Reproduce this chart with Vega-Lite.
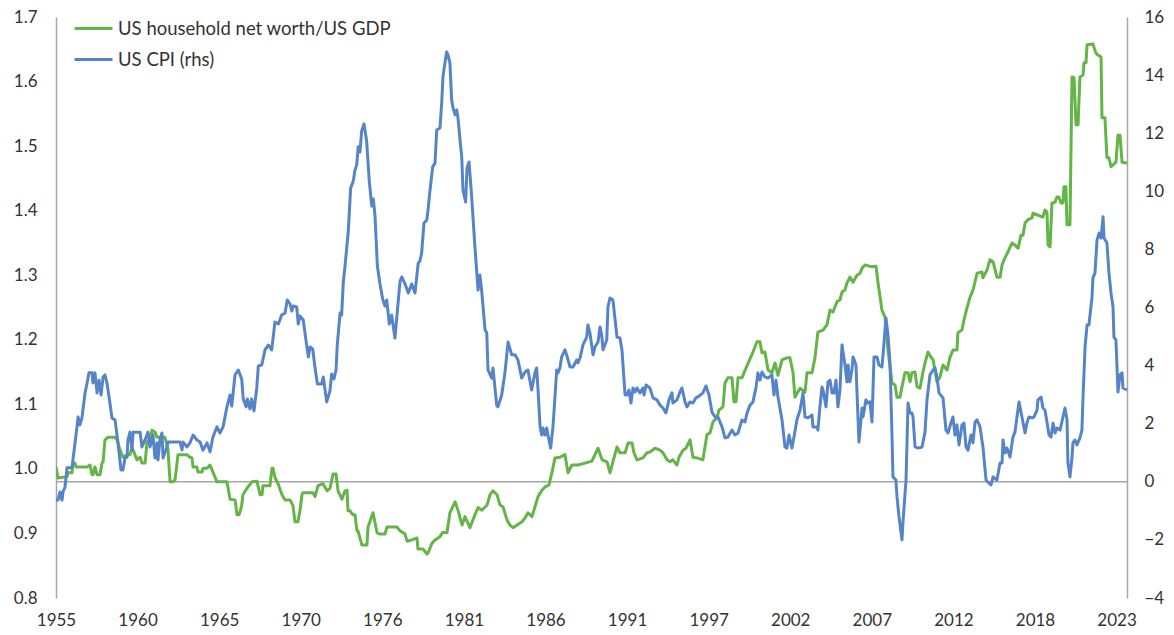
{
"$schema": "https://vega.github.io/schema/vega-lite/v6.json",
"width": 1071,
"height": 581,
"autosize": {"type": "none"},
"padding": {"left": 56, "top": 17, "right": 47, "bottom": 37},
"background": "white",
"config": {"view": {"stroke": null}, "font": "Lato", "axis": {"labelFont": "Lato", "labelFontSize": 17, "labelColor": "#333333", "grid": false, "ticks": false, "title": null}},
"datasets": {
"nw": [
{"date":1955.00,"nw":1.003},{"date":1955.13,"nw":0.986},{"date":1955.71,"nw":0.988},{"date":1955.77,"nw":0.994},{"date":1956.03,"nw":0.994},{"date":1956.09,"nw":1.009},{"date":1956.22,"nw":1.009},{"date":1956.29,"nw":1.003},{"date":1957.00,"nw":1.003},{"date":1957.19,"nw":1.006},{"date":1957.32,"nw":0.991},{"date":1957.38,"nw":0.991},{"date":1957.51,"nw":1.003},{"date":1957.64,"nw":0.991},{"date":1957.83,"nw":0.991},{"date":1957.96,"nw":1.009},{"date":1958.03,"nw":1.011},{"date":1958.15,"nw":1.045},{"date":1958.35,"nw":1.049},{"date":1958.80,"nw":1.049},{"date":1958.93,"nw":1.045},{"date":1959.12,"nw":1.029},{"date":1959.31,"nw":1.018},{"date":1959.57,"nw":1.022},{"date":1959.76,"nw":1.022},{"date":1959.89,"nw":1.034},{"date":1960.08,"nw":1.022},{"date":1960.21,"nw":1.014},{"date":1960.41,"nw":1.018},{"date":1960.53,"nw":1.009},{"date":1960.73,"nw":1.009},{"date":1960.86,"nw":1.042},{"date":1961.05,"nw":1.045},{"date":1961.18,"nw":1.060},{"date":1961.37,"nw":1.057},{"date":1961.50,"nw":1.049},{"date":1962.01,"nw":1.049},{"date":1962.21,"nw":1.029},{"date":1962.34,"nw":0.980},{"date":1962.53,"nw":0.980},{"date":1962.66,"nw":0.983},{"date":1962.85,"nw":1.022},{"date":1963.43,"nw":1.022},{"date":1963.62,"nw":1.018},{"date":1963.75,"nw":1.017},{"date":1963.82,"nw":1.003},{"date":1964.07,"nw":1.003},{"date":1964.14,"nw":0.995},{"date":1964.40,"nw":0.995},{"date":1964.46,"nw":1.001},{"date":1964.72,"nw":1.001},{"date":1964.91,"nw":1.006},{"date":1965.10,"nw":0.995},{"date":1965.36,"nw":0.980},{"date":1966.00,"nw":0.980},{"date":1966.20,"nw":0.953},{"date":1966.52,"nw":0.952},{"date":1966.65,"nw":0.929},{"date":1966.78,"nw":0.929},{"date":1966.95,"nw":0.943},{"date":1967.03,"nw":0.960},{"date":1967.29,"nw":0.970},{"date":1967.61,"nw":0.980},{"date":1967.93,"nw":0.981},{"date":1968.13,"nw":0.960},{"date":1968.26,"nw":0.960},{"date":1968.32,"nw":0.974},{"date":1968.77,"nw":0.974},{"date":1968.90,"nw":1.001},{"date":1968.96,"nw":1.001},{"date":1969.09,"nw":0.987},{"date":1969.29,"nw":0.977},{"date":1969.54,"nw":0.960},{"date":1969.74,"nw":0.952},{"date":1970.06,"nw":0.952},{"date":1970.25,"nw":0.943},{"date":1970.38,"nw":0.918},{"date":1970.57,"nw":0.918},{"date":1970.70,"nw":0.935},{"date":1970.83,"nw":0.960},{"date":1970.89,"nw":0.963},{"date":1971.54,"nw":0.963},{"date":1971.67,"nw":0.957},{"date":1971.86,"nw":0.974},{"date":1972.18,"nw":0.977},{"date":1972.44,"nw":0.966},{"date":1972.63,"nw":0.970},{"date":1972.83,"nw":0.992},{"date":1973.02,"nw":0.992},{"date":1973.15,"nw":0.966},{"date":1973.40,"nw":0.953},{"date":1973.60,"nw":0.966},{"date":1973.73,"nw":0.967},{"date":1973.79,"nw":0.935},{"date":1973.92,"nw":0.935},{"date":1974.11,"nw":0.929},{"date":1974.24,"nw":0.929},{"date":1974.37,"nw":0.904},{"date":1974.43,"nw":0.904},{"date":1974.69,"nw":0.882},{"date":1975.01,"nw":0.882},{"date":1975.08,"nw":0.910},{"date":1975.40,"nw":0.932},{"date":1975.66,"nw":0.901},{"date":1975.85,"nw":0.899},{"date":1976.17,"nw":0.899},{"date":1976.30,"nw":0.910},{"date":1976.94,"nw":0.910},{"date":1977.14,"nw":0.904},{"date":1977.46,"nw":0.899},{"date":1977.59,"nw":0.888},{"date":1977.91,"nw":0.890},{"date":1978.23,"nw":0.893},{"date":1978.29,"nw":0.876},{"date":1978.62,"nw":0.876},{"date":1978.87,"nw":0.868},{"date":1978.94,"nw":0.870},{"date":1979.20,"nw":0.885},{"date":1979.39,"nw":0.890},{"date":1979.71,"nw":0.895},{"date":1979.90,"nw":0.902},{"date":1980.16,"nw":0.901},{"date":1980.35,"nw":0.932},{"date":1980.68,"nw":0.949},{"date":1980.87,"nw":0.936},{"date":1981.13,"nw":0.913},{"date":1981.32,"nw":0.926},{"date":1981.64,"nw":0.909},{"date":1981.96,"nw":0.929},{"date":1982.16,"nw":0.940},{"date":1982.41,"nw":0.936},{"date":1982.74,"nw":0.944},{"date":1982.93,"nw":0.960},{"date":1983.12,"nw":0.966},{"date":1983.38,"nw":0.960},{"date":1983.57,"nw":0.944},{"date":1983.77,"nw":0.941},{"date":1984.02,"nw":0.921},{"date":1984.21,"nw":0.913},{"date":1984.41,"nw":0.909},{"date":1984.67,"nw":0.913},{"date":1984.99,"nw":0.918},{"date":1985.18,"nw":0.924},{"date":1985.37,"nw":0.932},{"date":1985.63,"nw":0.926},{"date":1985.82,"nw":0.941},{"date":1986.02,"nw":0.957},{"date":1986.27,"nw":0.967},{"date":1986.47,"nw":0.972},{"date":1986.72,"nw":0.975},{"date":1986.92,"nw":0.995},{"date":1987.11,"nw":1.017},{"date":1987.43,"nw":1.018},{"date":1987.75,"nw":1.022},{"date":1987.95,"nw":0.994},{"date":1988.20,"nw":1.006},{"date":1988.59,"nw":1.006},{"date":1989.04,"nw":1.009},{"date":1989.49,"nw":1.012},{"date":1989.68,"nw":1.022},{"date":1989.88,"nw":1.032},{"date":1990.14,"nw":1.014},{"date":1990.46,"nw":1.011},{"date":1990.65,"nw":0.994},{"date":1990.84,"nw":1.011},{"date":1991.10,"nw":1.034},{"date":1991.29,"nw":1.025},{"date":1991.62,"nw":1.025},{"date":1991.81,"nw":1.040},{"date":1992.07,"nw":1.040},{"date":1992.19,"nw":1.025},{"date":1992.39,"nw":1.014},{"date":1992.77,"nw":1.017},{"date":1993.03,"nw":1.025},{"date":1993.22,"nw":1.026},{"date":1993.55,"nw":1.032},{"date":1993.87,"nw":1.029},{"date":1994.06,"nw":1.025},{"date":1994.32,"nw":1.014},{"date":1994.51,"nw":1.011},{"date":1994.70,"nw":1.014},{"date":1994.96,"nw":1.006},{"date":1995.09,"nw":1.018},{"date":1995.35,"nw":1.029},{"date":1995.54,"nw":1.032},{"date":1995.80,"nw":1.045},{"date":1995.99,"nw":1.018},{"date":1996.25,"nw":1.017},{"date":1996.63,"nw":1.014},{"date":1996.89,"nw":1.053},{"date":1997.09,"nw":1.056},{"date":1997.28,"nw":1.073},{"date":1997.54,"nw":1.079},{"date":1997.66,"nw":1.091},{"date":1997.92,"nw":1.096},{"date":1998.05,"nw":1.133},{"date":1998.24,"nw":1.141},{"date":1998.50,"nw":1.141},{"date":1998.63,"nw":1.104},{"date":1998.76,"nw":1.104},{"date":1998.89,"nw":1.141},{"date":1999.14,"nw":1.141},{"date":1999.40,"nw":1.156},{"date":1999.85,"nw":1.181},{"date":2000.11,"nw":1.197},{"date":2000.30,"nw":1.197},{"date":2000.43,"nw":1.180},{"date":2000.62,"nw":1.181},{"date":2000.82,"nw":1.153},{"date":2001.07,"nw":1.149},{"date":2001.27,"nw":1.164},{"date":2001.46,"nw":1.145},{"date":2001.72,"nw":1.169},{"date":2002.04,"nw":1.172},{"date":2002.23,"nw":1.172},{"date":2002.43,"nw":1.149},{"date":2002.55,"nw":1.111},{"date":2002.88,"nw":1.125},{"date":2003.20,"nw":1.119},{"date":2003.33,"nw":1.149},{"date":2003.65,"nw":1.149},{"date":2003.84,"nw":1.172},{"date":2004.03,"nw":1.212},{"date":2004.36,"nw":1.215},{"date":2004.61,"nw":1.223},{"date":2004.81,"nw":1.246},{"date":2005.00,"nw":1.243},{"date":2005.26,"nw":1.259},{"date":2005.45,"nw":1.262},{"date":2005.58,"nw":1.274},{"date":2005.77,"nw":1.277},{"date":2005.90,"nw":1.288},{"date":2006.09,"nw":1.297},{"date":2006.29,"nw":1.289},{"date":2006.54,"nw":1.300},{"date":2006.74,"nw":1.303},{"date":2006.87,"nw":1.311},{"date":2007.06,"nw":1.316},{"date":2007.51,"nw":1.313},{"date":2007.77,"nw":1.314},{"date":2007.90,"nw":1.288},{"date":2008.15,"nw":1.246},{"date":2008.35,"nw":1.235},{"date":2008.54,"nw":1.184},{"date":2008.80,"nw":1.133},{"date":2008.99,"nw":1.130},{"date":2009.12,"nw":1.111},{"date":2009.31,"nw":1.111},{"date":2009.44,"nw":1.127},{"date":2009.63,"nw":1.149},{"date":2009.83,"nw":1.149},{"date":2009.96,"nw":1.135},{"date":2010.08,"nw":1.149},{"date":2010.28,"nw":1.150},{"date":2010.41,"nw":1.127},{"date":2010.60,"nw":1.125},{"date":2010.79,"nw":1.150},{"date":2010.92,"nw":1.164},{"date":2011.11,"nw":1.181},{"date":2011.31,"nw":1.173},{"date":2011.44,"nw":1.169},{"date":2011.69,"nw":1.135},{"date":2011.88,"nw":1.142},{"date":2012.08,"nw":1.161},{"date":2012.34,"nw":1.153},{"date":2012.53,"nw":1.173},{"date":2012.72,"nw":1.184},{"date":2012.98,"nw":1.184},{"date":2013.04,"nw":1.211},{"date":2013.30,"nw":1.215},{"date":2013.43,"nw":1.231},{"date":2013.62,"nw":1.249},{"date":2013.82,"nw":1.266},{"date":2014.01,"nw":1.277},{"date":2014.27,"nw":1.303},{"date":2014.59,"nw":1.305},{"date":2014.65,"nw":1.296},{"date":2014.91,"nw":1.308},{"date":2015.10,"nw":1.324},{"date":2015.30,"nw":1.321},{"date":2015.55,"nw":1.297},{"date":2015.75,"nw":1.297},{"date":2015.88,"nw":1.316},{"date":2016.07,"nw":1.327},{"date":2016.26,"nw":1.336},{"date":2016.52,"nw":1.350},{"date":2016.71,"nw":1.347},{"date":2016.91,"nw":1.342},{"date":2017.10,"nw":1.362},{"date":2017.23,"nw":1.362},{"date":2017.36,"nw":1.381},{"date":2017.55,"nw":1.386},{"date":2017.81,"nw":1.389},{"date":2017.87,"nw":1.396},{"date":2018.51,"nw":1.390},{"date":2018.64,"nw":1.401},{"date":2018.77,"nw":1.398},{"date":2018.84,"nw":1.347},{"date":2018.97,"nw":1.344},{"date":2019.09,"nw":1.412},{"date":2019.29,"nw":1.413},{"date":2019.41,"nw":1.421},{"date":2019.54,"nw":1.421},{"date":2019.67,"nw":1.412},{"date":2019.80,"nw":1.412},{"date":2019.87,"nw":1.437},{"date":2019.99,"nw":1.437},{"date":2020.06,"nw":1.378},{"date":2020.25,"nw":1.378},{"date":2020.38,"nw":1.607},{"date":2020.51,"nw":1.606},{"date":2020.64,"nw":1.533},{"date":2020.77,"nw":1.533},{"date":2020.89,"nw":1.607},{"date":2021.09,"nw":1.610},{"date":2021.15,"nw":1.629},{"date":2021.28,"nw":1.629},{"date":2021.35,"nw":1.657},{"date":2021.73,"nw":1.658},{"date":2021.92,"nw":1.644},{"date":2022.05,"nw":1.641},{"date":2022.25,"nw":1.638},{"date":2022.31,"nw":1.544},{"date":2022.50,"nw":1.544},{"date":2022.63,"nw":1.482},{"date":2022.76,"nw":1.482},{"date":2022.89,"nw":1.468},{"date":2023.02,"nw":1.471},{"date":2023.21,"nw":1.475},{"date":2023.34,"nw":1.517},{"date":2023.47,"nw":1.517},{"date":2023.60,"nw":1.475},{"date":2023.92,"nw":1.474}
],
"cpi": [
{"date":1955.00,"cpi":-0.63},{"date":1955.13,"cpi":-0.63},{"date":1955.26,"cpi":-0.35},{"date":1955.39,"cpi":-0.63},{"date":1955.45,"cpi":-0.35},{"date":1955.58,"cpi":-0.18},{"date":1955.71,"cpi":0.48},{"date":1956.03,"cpi":0.48},{"date":1956.09,"cpi":0.75},{"date":1956.35,"cpi":1.89},{"date":1956.42,"cpi":2.23},{"date":1956.54,"cpi":1.96},{"date":1956.67,"cpi":2.20},{"date":1956.87,"cpi":3.06},{"date":1957.00,"cpi":3.40},{"date":1957.12,"cpi":3.75},{"date":1957.32,"cpi":3.75},{"date":1957.38,"cpi":3.40},{"date":1957.51,"cpi":3.75},{"date":1957.64,"cpi":3.06},{"date":1957.77,"cpi":3.50},{"date":1957.90,"cpi":2.99},{"date":1958.03,"cpi":3.61},{"date":1958.15,"cpi":3.68},{"date":1958.28,"cpi":3.40},{"date":1958.47,"cpi":2.71},{"date":1958.60,"cpi":2.20},{"date":1958.80,"cpi":2.13},{"date":1958.99,"cpi":1.34},{"date":1959.18,"cpi":0.41},{"date":1959.31,"cpi":0.41},{"date":1959.44,"cpi":0.82},{"date":1959.57,"cpi":0.85},{"date":1959.63,"cpi":1.44},{"date":1959.76,"cpi":1.71},{"date":1959.89,"cpi":1.09},{"date":1959.96,"cpi":1.71},{"date":1960.41,"cpi":1.71},{"date":1960.53,"cpi":1.20},{"date":1960.73,"cpi":1.44},{"date":1960.92,"cpi":1.71},{"date":1961.05,"cpi":1.20},{"date":1961.24,"cpi":1.61},{"date":1961.37,"cpi":0.82},{"date":1961.50,"cpi":1.34},{"date":1961.56,"cpi":0.75},{"date":1961.69,"cpi":1.44},{"date":1961.82,"cpi":1.68},{"date":1961.89,"cpi":0.82},{"date":1962.14,"cpi":1.20},{"date":1962.21,"cpi":1.37},{"date":1962.98,"cpi":1.37},{"date":1963.11,"cpi":1.09},{"date":1963.17,"cpi":1.37},{"date":1963.43,"cpi":1.20},{"date":1963.62,"cpi":1.34},{"date":1963.82,"cpi":1.61},{"date":1964.07,"cpi":1.44},{"date":1964.27,"cpi":1.37},{"date":1964.46,"cpi":1.09},{"date":1964.72,"cpi":1.34},{"date":1964.91,"cpi":1.03},{"date":1965.10,"cpi":1.54},{"date":1965.36,"cpi":1.89},{"date":1965.55,"cpi":1.68},{"date":1965.75,"cpi":1.89},{"date":1966.00,"cpi":2.58},{"date":1966.20,"cpi":2.99},{"date":1966.31,"cpi":2.61},{"date":1966.52,"cpi":3.68},{"date":1966.73,"cpi":3.85},{"date":1966.95,"cpi":3.54},{"date":1967.05,"cpi":2.85},{"date":1967.23,"cpi":2.58},{"date":1967.31,"cpi":2.85},{"date":1967.48,"cpi":2.51},{"date":1967.59,"cpi":2.85},{"date":1967.74,"cpi":2.44},{"date":1967.92,"cpi":3.23},{"date":1968.02,"cpi":3.99},{"date":1968.24,"cpi":4.02},{"date":1968.45,"cpi":4.54},{"date":1968.66,"cpi":4.71},{"date":1968.88,"cpi":4.54},{"date":1969.09,"cpi":5.50},{"date":1969.31,"cpi":5.43},{"date":1969.52,"cpi":5.74},{"date":1969.74,"cpi":5.81},{"date":1969.88,"cpi":6.26},{"date":1970.06,"cpi":6.12},{"date":1970.17,"cpi":5.88},{"date":1970.27,"cpi":6.05},{"date":1970.49,"cpi":6.02},{"date":1970.59,"cpi":5.43},{"date":1970.70,"cpi":5.71},{"date":1970.91,"cpi":5.57},{"date":1971.09,"cpi":4.85},{"date":1971.24,"cpi":4.30},{"date":1971.35,"cpi":4.64},{"date":1971.52,"cpi":4.57},{"date":1971.67,"cpi":3.92},{"date":1971.82,"cpi":3.37},{"date":1972.10,"cpi":3.37},{"date":1972.20,"cpi":3.61},{"date":1972.42,"cpi":2.75},{"date":1972.63,"cpi":3.13},{"date":1972.74,"cpi":3.71},{"date":1972.89,"cpi":3.54},{"date":1973.02,"cpi":3.85},{"date":1973.10,"cpi":4.71},{"date":1973.28,"cpi":5.81},{"date":1973.38,"cpi":5.74},{"date":1973.49,"cpi":6.88},{"date":1973.60,"cpi":7.43},{"date":1973.81,"cpi":8.63},{"date":1973.96,"cpi":10.11},{"date":1974.13,"cpi":10.35},{"date":1974.24,"cpi":10.73},{"date":1974.35,"cpi":10.91},{"date":1974.45,"cpi":11.53},{"date":1974.56,"cpi":11.35},{"date":1974.67,"cpi":12.08},{"date":1974.82,"cpi":12.32},{"date":1974.99,"cpi":11.73},{"date":1975.16,"cpi":10.35},{"date":1975.32,"cpi":9.49},{"date":1975.42,"cpi":9.74},{"date":1975.53,"cpi":9.15},{"date":1975.68,"cpi":7.43},{"date":1975.85,"cpi":6.81},{"date":1976.02,"cpi":6.29},{"date":1976.17,"cpi":6.05},{"date":1976.28,"cpi":6.26},{"date":1976.45,"cpi":5.43},{"date":1976.60,"cpi":5.74},{"date":1976.81,"cpi":4.95},{"date":1977.14,"cpi":6.91},{"date":1977.25,"cpi":7.05},{"date":1977.46,"cpi":6.81},{"date":1977.67,"cpi":6.50},{"date":1977.89,"cpi":6.81},{"date":1978.10,"cpi":6.50},{"date":1978.31,"cpi":7.53},{"date":1978.42,"cpi":7.60},{"date":1978.53,"cpi":7.88},{"date":1978.68,"cpi":8.91},{"date":1978.86,"cpi":9.01},{"date":1978.94,"cpi":9.36},{"date":1979.07,"cpi":10.05},{"date":1979.24,"cpi":10.84},{"date":1979.39,"cpi":10.97},{"date":1979.50,"cpi":12.11},{"date":1979.71,"cpi":12.18},{"date":1979.82,"cpi":13.04},{"date":1979.90,"cpi":13.93},{"date":1980.03,"cpi":14.42},{"date":1980.14,"cpi":14.80},{"date":1980.23,"cpi":14.69},{"date":1980.35,"cpi":14.42},{"date":1980.46,"cpi":13.14},{"date":1980.55,"cpi":12.87},{"date":1980.68,"cpi":12.63},{"date":1980.79,"cpi":12.80},{"date":1980.87,"cpi":12.52},{"date":1981.00,"cpi":11.77},{"date":1981.11,"cpi":11.18},{"date":1981.19,"cpi":10.05},{"date":1981.36,"cpi":9.63},{"date":1981.45,"cpi":10.80},{"date":1981.58,"cpi":11.01},{"date":1981.75,"cpi":9.80},{"date":1981.96,"cpi":8.08},{"date":1982.16,"cpi":6.60},{"date":1982.28,"cpi":7.12},{"date":1982.39,"cpi":6.60},{"date":1982.61,"cpi":5.23},{"date":1982.72,"cpi":5.12},{"date":1982.80,"cpi":3.85},{"date":1983.04,"cpi":3.57},{"date":1983.12,"cpi":3.92},{"date":1983.36,"cpi":2.64},{"date":1983.44,"cpi":2.58},{"date":1983.68,"cpi":2.99},{"date":1983.89,"cpi":3.75},{"date":1984.09,"cpi":4.81},{"date":1984.33,"cpi":4.37},{"date":1984.54,"cpi":4.37},{"date":1984.73,"cpi":4.19},{"date":1984.97,"cpi":3.57},{"date":1985.18,"cpi":3.78},{"date":1985.37,"cpi":3.85},{"date":1985.61,"cpi":3.16},{"date":1985.82,"cpi":3.75},{"date":1985.93,"cpi":3.92},{"date":1986.02,"cpi":3.16},{"date":1986.15,"cpi":1.89},{"date":1986.26,"cpi":1.61},{"date":1986.34,"cpi":1.85},{"date":1986.47,"cpi":1.61},{"date":1986.58,"cpi":1.85},{"date":1986.66,"cpi":1.61},{"date":1986.83,"cpi":1.16},{"date":1986.98,"cpi":1.89},{"date":1987.11,"cpi":2.92},{"date":1987.22,"cpi":3.85},{"date":1987.30,"cpi":3.75},{"date":1987.43,"cpi":3.92},{"date":1987.54,"cpi":4.30},{"date":1987.75,"cpi":4.54},{"date":1987.86,"cpi":4.37},{"date":1988.08,"cpi":3.95},{"date":1988.27,"cpi":3.95},{"date":1988.51,"cpi":4.19},{"date":1988.59,"cpi":4.09},{"date":1988.72,"cpi":4.26},{"date":1988.91,"cpi":4.71},{"date":1989.15,"cpi":4.98},{"date":1989.23,"cpi":5.40},{"date":1989.36,"cpi":5.12},{"date":1989.56,"cpi":4.37},{"date":1989.68,"cpi":4.64},{"date":1989.88,"cpi":4.81},{"date":1990.01,"cpi":5.33},{"date":1990.12,"cpi":5.05},{"date":1990.20,"cpi":4.54},{"date":1990.44,"cpi":4.88},{"date":1990.52,"cpi":6.02},{"date":1990.65,"cpi":6.33},{"date":1990.84,"cpi":6.26},{"date":1991.10,"cpi":4.98},{"date":1991.29,"cpi":4.95},{"date":1991.42,"cpi":4.54},{"date":1991.62,"cpi":2.99},{"date":1991.74,"cpi":2.99},{"date":1991.87,"cpi":3.16},{"date":1992.00,"cpi":2.71},{"date":1992.13,"cpi":3.23},{"date":1992.26,"cpi":3.09},{"date":1992.39,"cpi":3.23},{"date":1992.58,"cpi":3.06},{"date":1992.77,"cpi":3.23},{"date":1992.84,"cpi":2.99},{"date":1992.97,"cpi":3.33},{"date":1993.22,"cpi":3.23},{"date":1993.42,"cpi":2.89},{"date":1993.67,"cpi":2.82},{"date":1993.87,"cpi":2.64},{"date":1994.06,"cpi":2.54},{"date":1994.25,"cpi":2.37},{"date":1994.45,"cpi":2.82},{"date":1994.64,"cpi":3.06},{"date":1994.70,"cpi":2.71},{"date":1994.96,"cpi":2.82},{"date":1995.15,"cpi":3.09},{"date":1995.28,"cpi":3.23},{"date":1995.48,"cpi":2.75},{"date":1995.60,"cpi":2.58},{"date":1995.80,"cpi":2.75},{"date":1995.99,"cpi":2.71},{"date":1996.18,"cpi":2.89},{"date":1996.38,"cpi":2.95},{"date":1996.63,"cpi":3.06},{"date":1996.83,"cpi":3.30},{"date":1997.02,"cpi":2.99},{"date":1997.21,"cpi":2.40},{"date":1997.41,"cpi":2.23},{"date":1997.60,"cpi":2.23},{"date":1997.86,"cpi":1.89},{"date":1998.05,"cpi":1.51},{"date":1998.24,"cpi":1.54},{"date":1998.50,"cpi":1.78},{"date":1998.69,"cpi":1.61},{"date":1998.89,"cpi":1.68},{"date":1999.14,"cpi":2.13},{"date":1999.34,"cpi":2.06},{"date":1999.47,"cpi":2.37},{"date":1999.66,"cpi":2.64},{"date":1999.85,"cpi":2.75},{"date":2000.05,"cpi":3.26},{"date":2000.17,"cpi":3.75},{"date":2000.30,"cpi":3.50},{"date":2000.43,"cpi":3.78},{"date":2000.62,"cpi":3.61},{"date":2000.82,"cpi":3.57},{"date":2001.07,"cpi":3.68},{"date":2001.20,"cpi":2.99},{"date":2001.33,"cpi":3.50},{"date":2001.46,"cpi":2.92},{"date":2001.72,"cpi":2.13},{"date":2001.91,"cpi":1.20},{"date":2002.04,"cpi":1.16},{"date":2002.17,"cpi":1.61},{"date":2002.36,"cpi":1.16},{"date":2002.49,"cpi":1.54},{"date":2002.68,"cpi":2.13},{"date":2002.88,"cpi":2.47},{"date":2003.07,"cpi":3.06},{"date":2003.20,"cpi":2.23},{"date":2003.39,"cpi":2.20},{"date":2003.65,"cpi":2.30},{"date":2003.71,"cpi":1.89},{"date":2003.97,"cpi":1.89},{"date":2004.03,"cpi":1.78},{"date":2004.16,"cpi":2.58},{"date":2004.29,"cpi":3.26},{"date":2004.36,"cpi":3.16},{"date":2004.55,"cpi":2.58},{"date":2004.68,"cpi":3.44},{"date":2004.81,"cpi":3.50},{"date":2004.94,"cpi":3.06},{"date":2005.06,"cpi":3.06},{"date":2005.19,"cpi":3.50},{"date":2005.32,"cpi":2.58},{"date":2005.45,"cpi":3.16},{"date":2005.58,"cpi":4.71},{"date":2005.77,"cpi":4.02},{"date":2005.90,"cpi":3.44},{"date":2005.97,"cpi":4.02},{"date":2006.09,"cpi":3.44},{"date":2006.22,"cpi":3.85},{"date":2006.29,"cpi":4.30},{"date":2006.48,"cpi":4.02},{"date":2006.54,"cpi":3.16},{"date":2006.67,"cpi":1.37},{"date":2006.87,"cpi":2.54},{"date":2006.93,"cpi":2.23},{"date":2007.12,"cpi":2.82},{"date":2007.25,"cpi":2.71},{"date":2007.38,"cpi":2.75},{"date":2007.51,"cpi":2.06},{"date":2007.64,"cpi":4.30},{"date":2007.83,"cpi":4.30},{"date":2007.96,"cpi":4.02},{"date":2008.15,"cpi":3.95},{"date":2008.22,"cpi":4.37},{"date":2008.41,"cpi":5.64},{"date":2008.54,"cpi":5.05},{"date":2008.67,"cpi":4.09},{"date":2008.80,"cpi":1.54},{"date":2008.86,"cpi":0.17},{"date":2009.05,"cpi":0.06},{"date":2009.12,"cpi":-0.52},{"date":2009.25,"cpi":-1.21},{"date":2009.44,"cpi":-2.00},{"date":2009.50,"cpi":-1.42},{"date":2009.70,"cpi":0.06},{"date":2009.83,"cpi":2.71},{"date":2009.96,"cpi":2.37},{"date":2010.08,"cpi":2.37},{"date":2010.15,"cpi":2.23},{"date":2010.28,"cpi":1.20},{"date":2010.47,"cpi":1.16},{"date":2010.73,"cpi":1.20},{"date":2010.92,"cpi":1.71},{"date":2011.05,"cpi":2.82},{"date":2011.24,"cpi":3.68},{"date":2011.44,"cpi":3.85},{"date":2011.56,"cpi":3.92},{"date":2011.69,"cpi":3.61},{"date":2011.82,"cpi":3.06},{"date":2012.08,"cpi":2.89},{"date":2012.27,"cpi":1.78},{"date":2012.40,"cpi":1.68},{"date":2012.59,"cpi":2.02},{"date":2012.72,"cpi":2.23},{"date":2012.85,"cpi":1.61},{"date":2012.98,"cpi":1.96},{"date":2013.11,"cpi":1.27},{"date":2013.30,"cpi":1.96},{"date":2013.43,"cpi":2.02},{"date":2013.56,"cpi":1.20},{"date":2013.69,"cpi":1.09},{"date":2013.88,"cpi":1.61},{"date":2014.01,"cpi":1.34},{"date":2014.14,"cpi":2.06},{"date":2014.27,"cpi":2.13},{"date":2014.46,"cpi":1.89},{"date":2014.65,"cpi":1.20},{"date":2014.85,"cpi":0.06},{"date":2014.97,"cpi":-0.01},{"date":2015.17,"cpi":-0.11},{"date":2015.30,"cpi":0.17},{"date":2015.55,"cpi":0.06},{"date":2015.75,"cpi":0.65},{"date":2015.88,"cpi":0.65},{"date":2015.94,"cpi":1.44},{"date":2016.07,"cpi":0.99},{"date":2016.20,"cpi":1.16},{"date":2016.39,"cpi":0.85},{"date":2016.58,"cpi":1.54},{"date":2016.71,"cpi":1.71},{"date":2016.84,"cpi":2.23},{"date":2016.97,"cpi":2.75},{"date":2017.16,"cpi":2.23},{"date":2017.36,"cpi":1.68},{"date":2017.48,"cpi":2.02},{"date":2017.61,"cpi":2.23},{"date":2017.81,"cpi":2.20},{"date":2017.93,"cpi":2.23},{"date":2018.13,"cpi":2.47},{"date":2018.19,"cpi":2.82},{"date":2018.39,"cpi":2.92},{"date":2018.51,"cpi":2.54},{"date":2018.64,"cpi":2.47},{"date":2018.77,"cpi":2.06},{"date":2018.90,"cpi":1.61},{"date":2019.03,"cpi":1.54},{"date":2019.16,"cpi":2.02},{"date":2019.29,"cpi":1.68},{"date":2019.41,"cpi":1.85},{"date":2019.61,"cpi":1.78},{"date":2019.80,"cpi":2.23},{"date":2019.93,"cpi":2.54},{"date":2020.06,"cpi":2.13},{"date":2020.12,"cpi":0.65},{"date":2020.25,"cpi":0.17},{"date":2020.38,"cpi":0.82},{"date":2020.44,"cpi":1.34},{"date":2020.57,"cpi":1.44},{"date":2020.70,"cpi":1.27},{"date":2020.89,"cpi":1.51},{"date":2021.02,"cpi":1.78},{"date":2021.09,"cpi":2.92},{"date":2021.22,"cpi":4.64},{"date":2021.35,"cpi":5.40},{"date":2021.47,"cpi":5.40},{"date":2021.67,"cpi":6.36},{"date":2021.73,"cpi":7.02},{"date":2021.86,"cpi":7.19},{"date":2021.99,"cpi":8.32},{"date":2022.12,"cpi":8.56},{"date":2022.25,"cpi":8.39},{"date":2022.38,"cpi":9.12},{"date":2022.44,"cpi":8.39},{"date":2022.63,"cpi":8.22},{"date":2022.76,"cpi":7.19},{"date":2022.89,"cpi":6.50},{"date":2023.02,"cpi":6.02},{"date":2023.08,"cpi":4.98},{"date":2023.21,"cpi":4.88},{"date":2023.34,"cpi":3.09},{"date":2023.47,"cpi":3.68},{"date":2023.60,"cpi":3.75},{"date":2023.66,"cpi":3.23},{"date":2023.92,"cpi":3.16}
],
"zero": [{"level": 0}]
},
"layer": [
{
"data": {"name": "zero"},
"mark": {"type": "rule", "color": "#a6a6a6", "strokeWidth": 1.5},
"encoding": {
"y": {"field": "level", "type": "quantitative", "scale": {"domain": [-4, 16], "nice": false, "zero": false}, "axis": null}
}
},
{
"data": {"name": "nw"},
"mark": {"type": "line", "strokeWidth": 3, "strokeJoin": "round", "clip": true},
"encoding": {
"x": {"field": "date", "type": "quantitative", "scale": {"domain": [1955, 2023.92], "nice": false, "zero": false},
"axis": {"orient": "bottom", "values": [1955, 1960.25, 1965.5, 1970.75, 1976, 1981.25, 1986.5, 1991.75, 1997, 2002.25, 2007.5, 2012.75, 2018, 2023.25], "labelExpr": "floor(datum.value) + ''", "domain": false, "labelPadding": 14, "labelFlush": false, "labelOverlap": false}},
"y": {"field": "nw", "type": "quantitative", "scale": {"domain": [0.8, 1.7], "nice": false, "zero": false},
"axis": {"orient": "left", "values": [0.8, 0.9, 1.0, 1.1, 1.2, 1.3, 1.4, 1.5, 1.6, 1.7], "format": ".1f", "domain": true, "domainColor": "#a6a6a6", "domainWidth": 1.5, "labelPadding": 19}},
"color": {"datum": "US household net worth/US GDP", "type": "nominal",
"scale": {"domain": ["US household net worth/US GDP", "US CPI (rhs)"], "range": ["#62B546", "#5585C8"]},
"legend": {"orient": "none", "legendX": 17, "legendY": -9, "title": null, "symbolType": "stroke", "symbolSize": 1444, "symbolStrokeWidth": 3, "labelFontSize": 18.5, "labelFont": "Lato", "labelColor": "#333333", "labelOffset": 4, "rowPadding": 1, "labelLimit": 600, "padding": 0}}
}
},
{
"data": {"name": "cpi"},
"mark": {"type": "line", "strokeWidth": 3, "strokeJoin": "round", "clip": true},
"encoding": {
"x": {"field": "date", "type": "quantitative"},
"y": {"field": "cpi", "type": "quantitative", "scale": {"domain": [-4, 16], "nice": false, "zero": false},
"axis": {"orient": "right", "values": [-4, -2, 0, 2, 4, 6, 8, 10, 12, 14, 16], "domain": true, "domainColor": "#a6a6a6", "domainWidth": 1.5, "labelPadding": 17}},
"color": {"datum": "US CPI (rhs)", "type": "nominal"}
}
}
],
"resolve": {"scale": {"y": "independent"}}
}
